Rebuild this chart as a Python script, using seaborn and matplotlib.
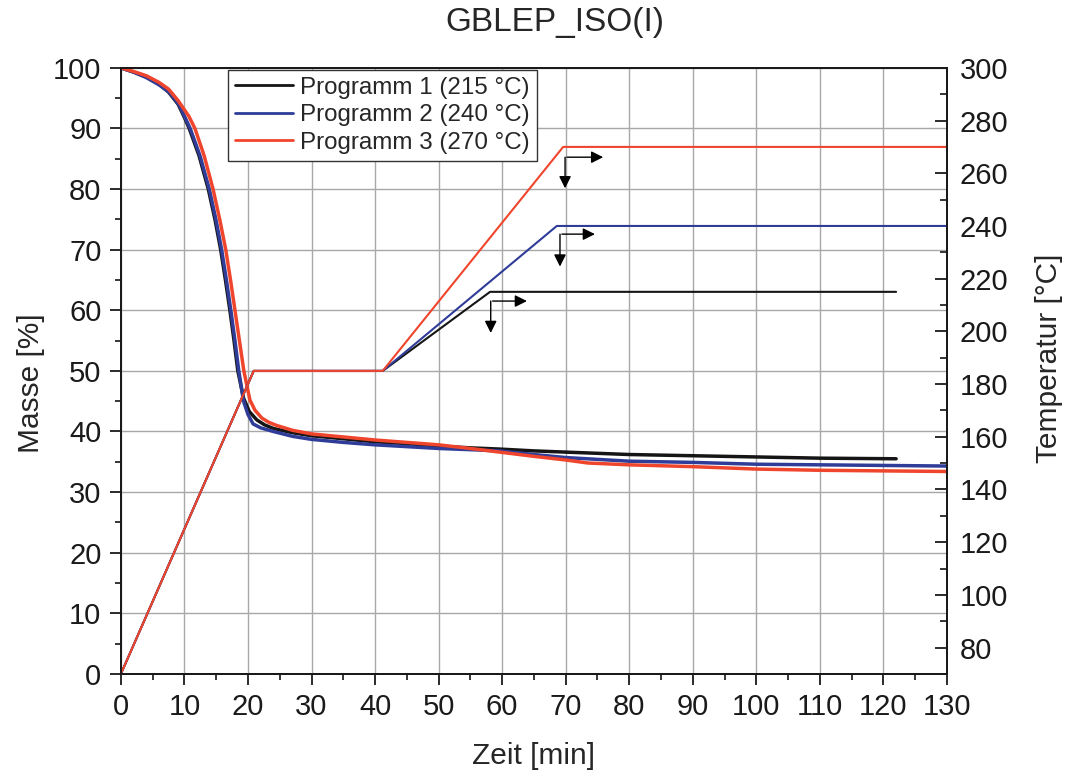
import numpy as np
import pandas as pd
import matplotlib
matplotlib.use('Agg')
import matplotlib.pyplot as plt
from matplotlib.lines import Line2D
from matplotlib.ticker import MultipleLocator
import seaborn as sns

# Masse [%] ueber Zeit [min]
t_p1 = [0, 2, 4, 6, 7.5, 9, 10, 10.75, 12.3, 13.75, 14.8, 15.7, 16.45, 17.15, 17.8, 18.4,
        19.3, 20.2, 21.4, 22.6, 24, 27, 30, 35, 40, 45, 50, 55, 59.6, 65, 70, 80, 90, 100,
        110, 122]
m_p1 = [100, 99.3, 98.5, 97.3, 96.0, 94.0, 91.8, 90, 85.5, 80, 75, 70, 65, 60, 55, 50,
        45.5, 43.3, 41.9, 41.1, 40.5, 39.8, 39.3, 38.8, 38.3, 38.0, 37.6, 37.3, 37.1, 36.8,
        36.6, 36.2, 36.0, 35.8, 35.6, 35.5]

t_p2 = [0, 2, 4, 6, 7.6, 9.1, 10.1, 10.9, 12.45, 13.9, 14.95, 15.85, 16.6, 17.3, 17.95, 18.55,
        19.3, 20.0, 20.8, 22, 24, 27, 30, 35, 40, 45, 50, 55, 59.6, 65, 70, 80, 90, 100,
        110, 130]
m_p2 = [100, 99.3, 98.4, 97.2, 96.0, 94.0, 91.8, 90, 85.5, 80, 75, 70, 65, 60, 55, 50,
        45.0, 42.8, 41.25, 40.6, 40.0, 39.2, 38.7, 38.2, 37.8, 37.5, 37.2, 37.0, 36.8, 36.2,
        35.7, 35.1, 34.9, 34.6, 34.5, 34.3]

t_p3 = [0, 2, 4, 6, 7.5, 9, 10.7, 11.65, 13.1, 14.5, 15.55, 16.5, 17.25, 17.95, 18.65, 19.35,
        20.3, 21.1, 22.2, 23.3, 24.5, 27, 30, 35, 40, 45, 50, 55, 59.6, 65, 70, 73.5, 80, 90,
        100, 110, 130]
m_p3 = [100, 99.4, 98.7, 97.6, 96.5, 94.6, 92.0, 90, 85.5, 80, 75, 70, 65, 60, 55, 50,
        45.2, 43.5, 42.2, 41.5, 41.0, 40.2, 39.6, 39.1, 38.6, 38.2, 37.8, 37.2, 36.6, 35.9,
        35.3, 34.8, 34.5, 34.2, 33.8, 33.6, 33.4]

# Temperatur [°C] ueber Zeit [min]
tt_p1 = [0, 20.9, 41.2, 58.1, 122]
T_p1 = [70, 185, 185, 215, 215]
tt_p2 = [0, 20.9, 41.2, 68.6, 130]
T_p2 = [70, 185, 185, 240, 240]
tt_p3 = [0, 20.9, 41.2, 69.6, 130]
T_p3 = [70, 185, 185, 270, 270]

labels = ['Programm 1 (215 °C)', 'Programm 2 (240 °C)', 'Programm 3 (270 °C)']
colors = ['#151515', '#2f3c98', '#f0452d']

# Pfeile: Ecke (t, T), Ende horizontal t, Ende vertikal T
arrow_t = [58.5, 69.4, 70.2]
arrow_T = [211.5, 236.9, 266.1]
arrow_t_end = [63.9, 74.6, 75.9]
arrow_T_end = [199.4, 224.6, 254.3]

sns.set_theme(style='ticks')
plt.rcParams['font.family'] = ['Liberation Sans', 'DejaVu Sans']

fig, ax = plt.subplots(figsize=(10.7, 7.8), dpi=100)
fig.subplots_adjust(left=0.113, right=0.885, top=0.913, bottom=0.136)
ax2 = ax.twinx()

mass = [(t_p1, m_p1), (t_p2, m_p2), (t_p3, m_p3)]
temp = [(tt_p1, T_p1), (tt_p2, T_p2), (tt_p3, T_p3)]

for (tx, my), c in zip(mass, colors):
    df = pd.DataFrame({'t': tx, 'm': my})
    sns.lineplot(data=df, x='t', y='m', ax=ax, color=c, lw=2.5, sort=False,
                 estimator=None, legend=False)

for (tx, ty), c in zip(temp, colors):
    df = pd.DataFrame({'t': tx, 'T': ty})
    sns.lineplot(data=df, x='t', y='T', ax=ax2, color=c, lw=1.5, sort=False,
                 estimator=None, legend=False)

for i in range(3):
    ap = dict(arrowstyle='-|>', color='black', lw=1.0, mutation_scale=18,
              shrinkA=0, shrinkB=0)
    ax2.annotate('', xy=(arrow_t_end[i], arrow_T[i]), xytext=(arrow_t[i], arrow_T[i]),
                 arrowprops=ap)
    ax2.annotate('', xy=(arrow_t[i] - 0.3, arrow_T_end[i]), xytext=(arrow_t[i] - 0.3, arrow_T[i]),
                 arrowprops=ap)

ax.set_xlim(0, 130)
ax.set_ylim(0, 100)
ax2.set_ylim(70, 300)
ax.xaxis.set_major_locator(MultipleLocator(10))
ax.xaxis.set_minor_locator(MultipleLocator(5))
ax.yaxis.set_major_locator(MultipleLocator(10))
ax.yaxis.set_minor_locator(MultipleLocator(5))
ax2.set_yticks(range(80, 301, 20))
ax2.set_yticks(range(70, 301, 10), minor=True)

ax.grid(True, which='major', color='#a8a8a8', lw=1.0)
ax.set_axisbelow(True)

ax.tick_params(axis='both', which='major', direction='out', length=8, width=1.3,
               labelsize=21, pad=6, colors='#1a1a1a')
ax.tick_params(axis='both', which='minor', direction='out', length=4.5, width=1.3)
ax2.tick_params(axis='y', which='major', direction='in', length=9, width=1.3,
                labelsize=21, pad=9, colors='#1a1a1a')
ax2.tick_params(axis='y', which='minor', direction='in', length=5, width=1.3)

for a in (ax, ax2):
    for s in a.spines.values():
        s.set_visible(True)
        s.set_linewidth(1.4)
        s.set_color('#1a1a1a')

ax.set_xlabel('Zeit [min]', fontsize=21.5, labelpad=15)
ax.set_ylabel('Masse [%]', fontsize=21.5)
ax2.set_ylabel('Temperatur [°C]', fontsize=21.5)
ax.yaxis.set_label_coords(-0.092, 0.48)
ax2.yaxis.set_label_coords(1.1065, 0.521)

fig.text(555 / 1070, 1 - 22 / 780, 'GBLEP_ISO(I)', fontsize=24, ha='center', va='center')

handles = [Line2D([0], [0], color=c, lw=2) for c in colors]
leg = ax.legend(handles, labels, loc='upper left', bbox_to_anchor=(0.1295, 0.997),
                borderaxespad=0, fontsize=17.4, frameon=True, fancybox=False,
                framealpha=1, edgecolor='#333333', handlelength=2.4,
                handletextpad=0.3, labelspacing=0.22, borderpad=0.3)
leg.get_frame().set_linewidth(1.0)
leg.set_zorder(10)

fig.savefig('out.png', dpi=100)
